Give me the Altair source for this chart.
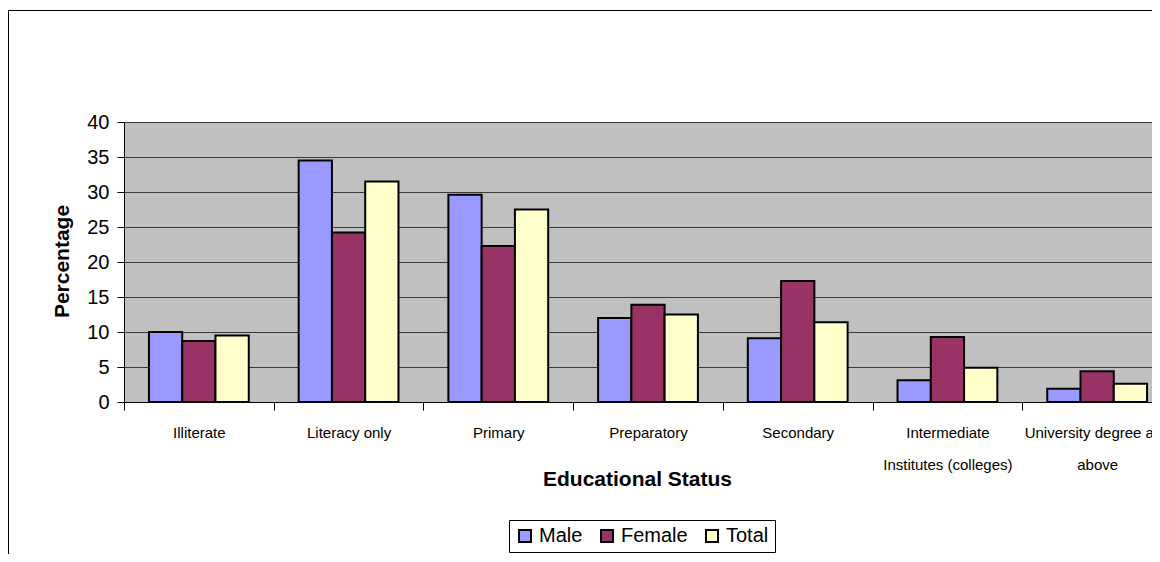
import altair as alt
import pandas as pd

categories = ["Illiterate", "Literacy only", "Primary", "Preparatory", "Secondary",
              "Intermediate Institutes (colleges)", "University degree and above"]
label_lines = [["Illiterate"], ["Literacy only"], ["Primary"], ["Preparatory"], ["Secondary"],
               ["Intermediate", "Institutes (colleges)"], ["University degree and", "above"]]
series = ["Male", "Female", "Total"]
male = [10.0, 34.5, 29.6, 12.0, 9.1, 3.1, 1.9]
female = [8.7, 24.2, 22.3, 13.9, 17.3, 9.3, 4.4]
total = [9.5, 31.5, 27.5, 12.5, 11.4, 4.9, 2.6]
colors = ["#9999FF", "#993366", "#FFFFCC"]
y_ticks = [0, 5, 10, 15, 20, 25, 30, 35, 40]

rows = []
for s, vals in zip(series, [male, female, total]):
    for c, v in zip(categories, vals):
        rows.append({"category": c, "series": s, "value": v})
df = pd.DataFrame(rows)

# multi-line label expression
expr = "datum.value"
for c, lines in reversed(list(zip(categories, label_lines))):
    arr = "[" + ",".join("'" + l + "'" for l in lines) + "]"
    expr = f"datum.value == '{c}' ? {arr} : ({expr})"

FONT = "Arial, Liberation Sans"

bars = alt.Chart(df).mark_bar(stroke="black", strokeWidth=2).encode(
    x=alt.X("category:N", sort=categories,
            scale=alt.Scale(range=[0, 1048], paddingInner=0, paddingOuter=0),
            axis=alt.Axis(title="Educational Status", labelAngle=0, labelExpr=expr,
                          labelFontSize=15, labelLineHeight=32, labelLimit=0,
                          labelPadding=15, labelColor="black", labelFont=FONT,
                          ticks=True, tickBand="extent", tickSize=8, tickColor="black",
                          domainColor="black", domainWidth=1, grid=False,
                          titleFontSize=21, titleFontWeight="bold", titleFont=FONT,
                          titleColor="black", titleX=513, titleY=83,
                          titleBaseline="alphabetic", titleAlign="center")),
    xOffset=alt.XOffset("series:N", sort=series,
                        scale=alt.Scale(paddingInner=0, paddingOuter=0.75)),
    y=alt.Y("value:Q", scale=alt.Scale(domain=[0, 40], nice=False),
            axis=alt.Axis(title="Percentage", values=y_ticks, labelFontSize=20,
                          labelFont=FONT, labelColor="black", labelPadding=8,
                          tickSize=7, tickColor="black", domainColor="black",
                          grid=True, gridColor="#3a3a3a", gridWidth=1,
                          titleFontSize=21, titleFontWeight="bold", titleFont=FONT,
                          titleColor="black", titleX=-56, titleY=139, titleAngle=270,
                          titleBaseline="alphabetic", titleAlign="center")),
    color=alt.Color("series:N", sort=series,
                    scale=alt.Scale(domain=series, range=colors),
                    legend=alt.Legend(title=None, orient="none", legendX=385, legendY=398,
                                      direction="horizontal", symbolType="square",
                                      symbolSize=144, symbolStrokeColor="black",
                                      symbolStrokeWidth=2, labelFontSize=20,
                                      labelFont=FONT, labelColor="black", labelOffset=4,
                                      columnPadding=14, padding=6, strokeColor="black",
                                      fillColor="white")),
)

frame = alt.Chart(pd.DataFrame({"a": [0]})).mark_rect(
    filled=False, stroke="black", strokeWidth=1
).encode(x=alt.value(-115.5), x2=alt.value(1300), y=alt.value(-111.5), y2=alt.value(700))

chart = alt.layer(bars, frame).properties(
    width=1028, height=280,
    autosize=alt.AutoSizeParams(type="none"),
    padding={"left": 116, "top": 114, "right": 0, "bottom": 152},
    background="white",
).configure_view(fill="#C0C0C0", stroke=None)

chart.save("out.html", embed_options={"renderer": "svg", "actions": False})
